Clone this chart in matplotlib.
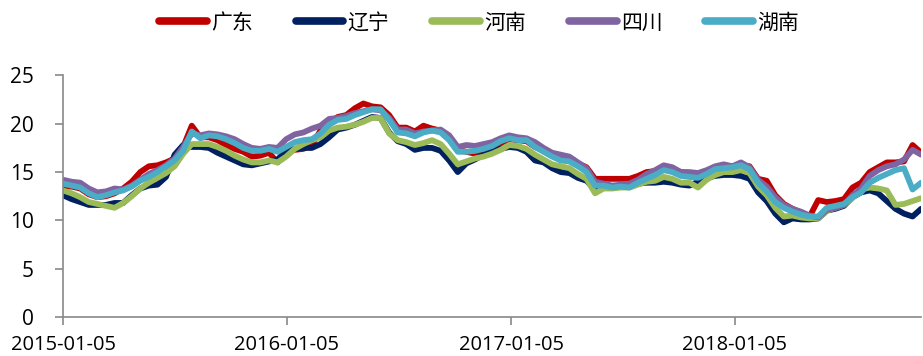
import matplotlib
matplotlib.use("Agg")
import matplotlib.pyplot as plt
import pandas as pd

# biweekly price series, 2015-01-05 .. 2018-11-05
dates = pd.date_range("2015-01-05", periods=101, freq="14D")

guangdong = [
    13.5, 13.5, 13.3, 12.7, 12.4, 12.5, 12.8, 13.3, 14.0, 15.0,
    15.6, 15.7, 16.0, 16.4, 17.6, 19.8, 18.6, 18.6, 18.3, 17.8,
    17.4, 17.1, 16.6, 16.7, 17.0, 16.0, 17.0, 17.3, 17.4, 17.8,
    19.3, 20.0, 20.7, 20.9, 21.6, 22.1, 21.8, 21.7, 20.9, 19.6,
    19.6, 19.2, 19.8, 19.5, 19.3, 18.5, 17.3, 17.1, 16.9, 17.1,
    17.5, 18.0, 18.4, 18.3, 18.2, 17.6, 17.2, 16.9, 16.6, 16.4,
    15.9, 15.5, 14.3, 14.3, 14.3, 14.3, 14.3, 14.6, 15.0, 15.1,
    15.5, 15.3, 15.0, 14.9, 14.8, 15.1, 15.4, 15.5, 15.6, 15.7,
    15.6, 14.3, 14.1, 12.6, 11.7, 11.2, 10.8, 10.4, 12.1, 11.9,
    12.0, 12.2, 13.4, 13.9, 15.0, 15.5, 16.0, 16.0, 16.1, 17.8,
    17.0,
]
liaoning = [
    12.6, 12.2, 11.9, 11.6, 11.6, 11.6, 11.8, 11.8, 12.6, 13.3,
    13.6, 13.7, 14.5, 16.8, 17.8, 17.6, 17.6, 17.5, 17.0, 16.6,
    16.2, 15.8, 15.7, 15.9, 16.1, 16.3, 17.2, 17.4, 17.5, 17.5,
    17.9, 18.6, 19.4, 19.6, 19.9, 20.3, 20.7, 20.6, 19.1, 18.2,
    17.9, 17.3, 17.5, 17.5, 17.2, 16.2, 15.0, 15.9, 16.3, 16.8,
    17.2, 17.4, 17.6, 17.5, 17.1, 16.2, 16.0, 15.4, 15.0, 14.9,
    14.4, 14.1, 13.2, 13.4, 13.4, 13.5, 13.5, 13.8, 13.9, 13.9,
    14.0, 13.9, 13.7, 13.6, 14.0, 14.4, 14.6, 14.7, 14.7, 14.6,
    14.3, 12.9, 12.0, 10.7, 9.8, 10.2, 10.1, 10.1, 10.2, 11.0,
    11.2, 11.5, 12.4, 12.9, 13.1, 12.8, 12.0, 11.2, 10.7, 10.4,
    11.2,
]
henan = [
    13.1, 12.8, 12.4, 11.9, 11.7, 11.5, 11.3, 11.8, 12.5, 13.3,
    13.9, 14.4, 14.9, 15.6, 16.9, 17.9, 17.9, 17.9, 17.6, 17.2,
    16.7, 16.3, 16.0, 16.0, 16.2, 16.0, 16.6, 17.4, 17.9, 18.3,
    18.6, 19.3, 19.6, 19.7, 19.9, 20.2, 20.6, 20.6, 19.0, 18.3,
    18.1, 17.8, 18.0, 18.3, 17.9, 16.9, 15.8, 16.1, 16.4, 16.6,
    16.9, 17.3, 17.8, 17.7, 17.4, 16.8, 16.3, 15.8, 15.6, 15.4,
    14.8, 14.3, 12.8, 13.3, 13.3, 13.4, 13.4, 13.7, 14.0, 14.1,
    14.5, 14.3, 13.9, 13.9, 13.4, 14.2, 14.7, 15.0, 15.0, 15.2,
    14.9, 13.5, 12.6, 11.3, 10.4, 10.5, 10.3, 10.2, 10.2, 11.0,
    11.3, 11.6, 12.3, 13.2, 13.4, 13.3, 13.1, 11.6, 11.7, 12.0,
    12.3,
]
sichuan = [
    14.2, 14.0, 13.9, 13.3, 12.9, 13.0, 13.3, 13.2, 13.6, 14.2,
    14.8, 15.2, 15.7, 16.4, 17.6, 19.0, 18.8, 19.0, 18.9, 18.7,
    18.4, 17.9, 17.5, 17.4, 17.6, 17.5, 18.4, 18.9, 19.1, 19.5,
    19.8, 20.5, 20.6, 20.8, 21.1, 21.3, 21.5, 21.4, 20.6, 19.4,
    19.4, 19.0, 19.2, 19.3, 19.4, 18.8, 17.6, 17.8, 17.7, 17.9,
    18.1, 18.5, 18.8, 18.6, 18.5, 18.1, 17.5, 17.0, 16.8, 16.6,
    16.0, 15.4, 14.0, 13.8, 13.6, 13.7, 13.8, 14.2, 14.8, 15.2,
    15.7, 15.5, 15.0, 15.0, 14.9, 15.2, 15.6, 15.8, 15.6, 16.0,
    15.5, 14.2, 13.5, 12.4, 11.6, 11.2, 10.9, 10.5, 10.3, 11.1,
    11.3, 11.6, 12.6, 13.3, 14.6, 15.2, 15.6, 15.8, 16.3, 17.3,
    16.8,
]
hunan = [
    13.8, 13.6, 13.4, 12.8, 12.4, 12.6, 12.9, 13.1, 13.5, 14.1,
    14.5, 15.0, 15.6, 16.2, 17.2, 19.2, 18.5, 18.8, 18.7, 18.4,
    18.0, 17.5, 17.2, 17.2, 17.4, 17.1, 17.6, 18.1, 18.3, 18.4,
    19.0, 19.9, 20.4, 20.5, 20.9, 21.2, 21.5, 21.5, 20.4, 19.1,
    19.0, 18.7, 19.1, 19.3, 19.1, 18.3, 17.1, 17.1, 17.2, 17.4,
    17.7, 18.2, 18.5, 18.3, 18.3, 17.6, 17.1, 16.6, 16.2, 16.1,
    15.6, 15.0, 13.6, 13.6, 13.4, 13.5, 13.4, 13.9, 14.3, 14.7,
    15.2, 15.0, 14.6, 14.5, 14.4, 14.8, 15.3, 15.4, 15.5, 15.7,
    15.3, 13.9, 13.0, 11.9, 11.3, 10.9, 10.6, 10.4, 10.4, 11.3,
    11.5, 11.7, 12.4, 12.9, 13.9, 14.4, 14.8, 15.2, 15.4, 13.2,
    13.9,
]

names = ["广东", "辽宁", "河南", "四川", "湖南"]
series = [guangdong, liaoning, henan, sichuan, hunan]
colors = ["#C00000", "#002060", "#9BBB59", "#8064A2", "#4BACC6"]

tick_dates = pd.to_datetime(["2015-01-05", "2016-01-05", "2017-01-05", "2018-01-05"])
tick_labels = ["2015-01-05", "2016-01-05", "2017-01-05", "2018-01-05"]

plt.rcParams["font.family"] = ["Open Sans", "DejaVu Sans"]

fig = plt.figure(figsize=(9.23, 3.56), dpi=100)
ax = fig.add_axes([0.0683, 0.1096, 0.9297, 0.6784])

for nm, vals, c in zip(names, series, colors):
    ax.plot(dates, vals, color=c, lw=4.2, solid_capstyle="round",
            solid_joinstyle="round", label=nm)

ax.set_xlim(dates[0], dates[-1])
ax.set_ylim(0, 25)
ax.set_yticks(range(0, 26, 5))
ax.set_xticks(tick_dates)
ax.set_xticklabels(tick_labels)

for s in ["top", "right"]:
    ax.spines[s].set_visible(False)
for s in ["left", "bottom"]:
    ax.spines[s].set_color("#898989")
    ax.spines[s].set_linewidth(1.2)
ax.tick_params(axis="y", direction="out", length=6, width=1.2,
               color="#898989", labelsize=15, pad=15)
ax.tick_params(axis="x", direction="out", length=6, width=1.2,
               color="#898989", labelsize=14.5, pad=7)

leg = fig.legend(loc="upper center", bbox_to_anchor=(0.519, 1.02), ncol=5,
                 frameon=False, handlelength=2.3, handletextpad=0.2,
                 columnspacing=2.05, prop={"family": ["Noto Sans CJK SC"], "size": 15})
for line in leg.get_lines():
    line.set_linewidth(5.5)
    line.set_solid_capstyle("round")

fig.savefig("out.png", dpi=100)
